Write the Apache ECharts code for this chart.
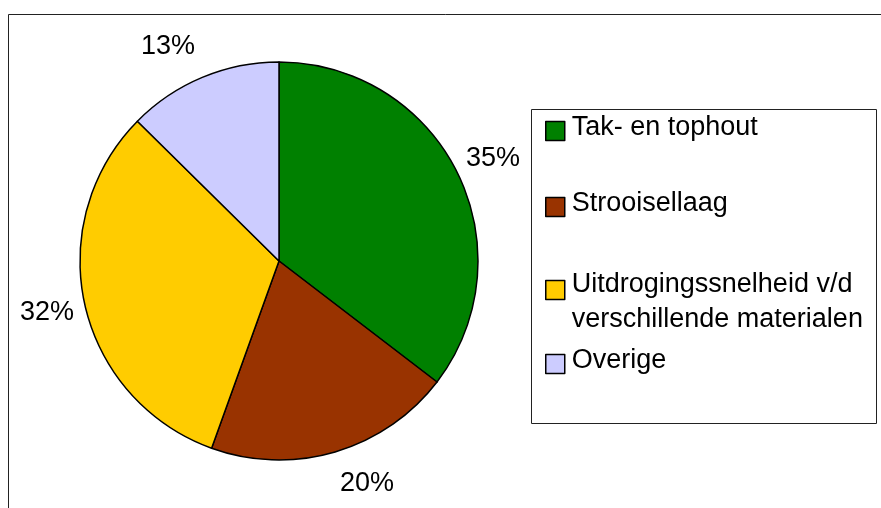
<!DOCTYPE html>
<html>
<head>
<meta charset="utf-8">
<script src="https://cdn.jsdelivr.net/npm/echarts@6/dist/echarts.min.js"></script>
<style>
  html, body { margin: 0; padding: 0; background: #fff; }
  #chart { width: 881px; height: 508px; }
</style>
</head>
<body>
<div id="chart"></div>
<script>
// ---- data ----
const categories = [
  'Tak- en tophout',
  'Strooisellaag',
  'Uitdrogingssnelheid v/d\nverschillende materialen',
  'Overige'
];
const shares = [35.4, 20.1, 31.9, 12.6];
const sliceColors = ['#008000', '#993300', '#FFCC00', '#CCCCFF'];

// ---- layout tweaks (not data) ----
const FONT = 'Liberation Sans, Arial, sans-serif';
const CX = 279, CY = 261, R = 199;
const legendTops = [114.5, 190.5, 253, 347.5];
const labelNudges = [[-2, 4], [20, -9], [3, -2], [-18, 8]];

// ---- build ----
const pieData = categories.map((c, i) => ({
  name: c,
  value: shares[i],
  itemStyle: { color: sliceColors[i] }
}));
const labelData = categories.map((c, i) => ({ name: c, value: shares[i] }));

function legendFormatter(name) {
  const lines = name.split('\n');
  if (lines.length > 1) {
    return '{sp2| }\n' + lines.map(l => '{b|' + l + '}').join('\n');
  }
  return '{a|' + name + '}\n{sp1| }';
}

const legends = categories.map((c, i) => ({
  orient: 'vertical',
  left: 545,
  top: legendTops[i],
  padding: 0,
  itemWidth: 19,
  itemHeight: 19,
  itemGap: 0,
  selectedMode: false,
  icon: 'rect',
  itemStyle: { borderColor: '#000', borderWidth: 1.5 },
  formatter: legendFormatter,
  textStyle: {
    fontFamily: FONT,
    fontSize: 27,
    color: '#000',
    rich: {
      a: { fontFamily: FONT, fontSize: 27, color: '#000', lineHeight: 33, padding: [0, 0, 0, 2] },
      b: { fontFamily: FONT, fontSize: 27, color: '#000', lineHeight: 35, padding: [0, 0, 0, 2] },
      sp1: { fontSize: 4, lineHeight: 6 },
      sp2: { fontSize: 4, lineHeight: 25 }
    }
  },
  data: [c]
}));

const chart = echarts.init(document.getElementById('chart'), null, { renderer: 'canvas' });
chart.setOption({
  backgroundColor: '#ffffff',
  animation: false,
  legend: legends,
  graphic: [
    {
      type: 'rect',
      silent: true,
      z: -1,
      shape: { x: 8.5, y: 14.5, width: 900, height: 600 },
      style: { fill: 'none', stroke: '#222', lineWidth: 1 }
    },
    {
      type: 'rect',
      silent: true,
      shape: { x: 531.5, y: 109.5, width: 345, height: 314 },
      style: { fill: 'none', stroke: '#222', lineWidth: 1 }
    }
  ],
  series: [
    {
      type: 'pie',
      center: [CX, CY],
      radius: [0, R],
      startAngle: 90,
      clockwise: true,
      silent: true,
      label: { show: false },
      labelLine: { show: false },
      itemStyle: { borderColor: '#000', borderWidth: 1.5 },
      emphasis: { disabled: true },
      data: pieData
    },
    {
      type: 'pie',
      center: [CX, CY],
      radius: [R + 37, R + 41],
      startAngle: 90,
      clockwise: true,
      silent: true,
      itemStyle: { color: 'rgba(0,0,0,0)', borderWidth: 0 },
      emphasis: { disabled: true },
      labelLine: { show: false },
      label: {
        show: true,
        position: 'inside',
        fontFamily: FONT,
        fontSize: 27,
        color: '#000',
        formatter: p => Math.round(p.value) + '%'
      },
      labelLayout: p => ({ dx: labelNudges[p.dataIndex][0], dy: labelNudges[p.dataIndex][1] }),
      data: labelData
    }
  ]
});
</script>
</body>
</html>
